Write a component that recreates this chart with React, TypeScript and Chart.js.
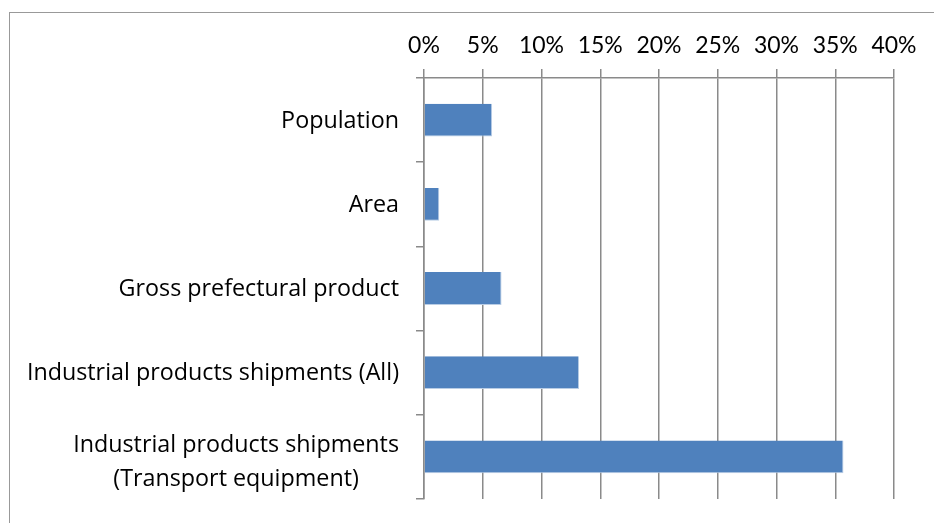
import React, { useEffect, useRef } from 'react';
import { Chart, registerables } from 'chart.js';

Chart.register(...registerables);

// Category labels (multi-line where the original wraps)
const categories: string[][] = [
  ['Population'],
  ['Area'],
  ['Gross prefectural product'],
  ['Industrial products shipments (All)'],
  ['Industrial products shipments', '(Transport equipment)'],
];

// Share values in percent
const shares: number[] = [5.8, 1.3, 6.6, 13.2, 35.7];

// X axis range / step (percent)
const xMin = 0;
const xMax = 40;
const xStep = 5;

const LABEL_FONT = '"Open Sans", Lato, sans-serif';
const TICK_FONT = 'Lato, "Open Sans", sans-serif';
const LABEL_SIZE = 23.3;
const TICK_SIZE = 23;
const LINE_H = 34;
const GRID = '#8a8a8a';

const labelPlugin = {
  id: 'categoryLabels',
  afterDraw(chart: any) {
    const yScale = chart.scales.y;
    const ctx = chart.ctx as CanvasRenderingContext2D;
    ctx.save();
    ctx.font = `${LABEL_SIZE}px ${LABEL_FONT}`;
    ctx.fillStyle = '#000';
    ctx.textAlign = 'center';
    ctx.textBaseline = 'middle';
    const right = yScale.right - 25;
    categories.forEach((lines, i) => {
      const cy = yScale.getPixelForValue(i) + 1;
      const maxW = Math.max(...lines.map((l) => ctx.measureText(l).width));
      const cx = right - maxW / 2;
      lines.forEach((line, j) => {
        const off = (j - (lines.length - 1) / 2) * LINE_H + (lines.length > 1 ? 4 : 0);
        ctx.fillText(line, cx, cy + off);
      });
    });
    ctx.restore();
  },
};

export default function App() {
  const ref = useRef<HTMLCanvasElement | null>(null);

  useEffect(() => {
    if (!ref.current) return;
    const chart = new Chart(ref.current, {
      type: 'bar',
      data: {
        labels: categories.map((c) => c.join(' ')),
        datasets: [
          {
            data: shares,
            backgroundColor: '#4F81BD',
            borderColor: '#b9cde5',
            borderWidth: { top: 0, left: 0, right: 1, bottom: 1 },
            barPercentage: 0.39,
            categoryPercentage: 1,
          },
        ],
      },
      options: {
        indexAxis: 'y',
        animation: false,
        responsive: false,
        layout: { padding: { left: 0, top: 0, right: 40, bottom: 24 } },
        plugins: {
          legend: { display: false },
          tooltip: { enabled: false },
        },
        scales: {
          x: {
            position: 'top',
            min: xMin,
            max: xMax,
            afterFit: (s: any) => {
              s.height = 78;
            },
            ticks: {
              stepSize: xStep,
              callback: (v: any) => `${v}%`,
              font: { family: TICK_FONT, size: TICK_SIZE },
              color: '#000',
              padding: 10,
              maxRotation: 0,
            },
            grid: {
              color: GRID,
              lineWidth: 1.5,
              tickLength: 9,
              drawTicks: true,
            },
            border: { display: true, color: GRID, width: 1.5 },
          },
          y: {
            afterFit: (s: any) => {
              s.width = 424;
            },
            ticks: { display: false },
            grid: {
              offset: true,
              drawOnChartArea: false,
              drawTicks: true,
              tickLength: 8,
              color: GRID,
              lineWidth: 1.5,
            },
            border: { display: true, color: GRID, width: 1.5 },
          },
        },
      },
      plugins: [labelPlugin],
    });
    return () => chart.destroy();
  }, []);

  return (
    <div
      style={{
        position: 'absolute',
        left: 0,
        top: 0,
        width: 934,
        height: 523,
        overflow: 'hidden',
        background: '#fff',
      }}
    >
      <div
        style={{
          position: 'absolute',
          left: 9,
          top: 12,
          width: 1000,
          height: 600,
          borderLeft: '1.5px solid #999',
          borderTop: '1.5px solid #999',
        }}
      />
      <canvas
        ref={ref}
        width={934}
        height={523}
        style={{ position: 'absolute', left: 0, top: 0, display: 'block' }}
      />
    </div>
  );
}
